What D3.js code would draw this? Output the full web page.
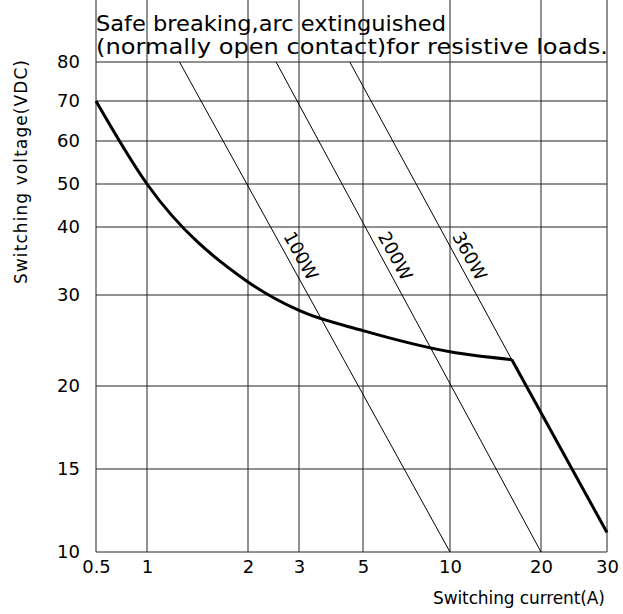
<!DOCTYPE html>
<html>
<head>
<meta charset="utf-8">
<script src="https://cdn.jsdelivr.net/npm/d3@7"></script>
<style>
  body { margin: 0; background: #fff; }
  text { font-family: "DejaVu Sans", sans-serif; fill: #000; }
</style>
</head>
<body>
<svg id="chart" width="623" height="614"></svg>
<script>
// ---- data
var xTicks = [0.5, 1, 2, 3, 5, 10, 20, 30];
var yTicks = [10, 15, 20, 30, 40, 50, 60, 70, 80];

// arc limit curve (A, V)
var arcI = [0.5, 1, 2, 3, 5, 10, 16];
var arcV = [70, 50, 31.7, 28, 25.6, 23.3, 22.5];
// straight tail after the knee
var tailI = [16, 30];
var tailV = [22.5, 11];

// constant power lines
var powers = [100, 200, 360];
var powerLabels = ["100W", "200W", "360W"];
var powerEndI = [10, 20, 16];

var titleLines = ["Safe breaking,arc extinguished", "(normally open contact)for resistive loads."];

// ---- layout
var svg = d3.select("#chart");
// the paper grid is not evenly spaced, so the scales are piecewise
var xStops = [96, 147, 248, 299, 363, 450, 541, 607];
var yStops = [552, 469, 386, 295, 227, 184, 141, 101, 62];

var x = d3.scaleLog().domain(xTicks).range(xStops);
var y = d3.scaleLog().domain(yTicks).range(yStops);

var left = x(0.5), right = x(30), top = y(80), bottom = y(10);

// grid
var grid = svg.append("g").attr("class", "grid");
grid.selectAll("line.v")
    .data(xTicks)
    .enter().append("line")
    .attr("x1", function(d){ return x(d); })
    .attr("x2", function(d){ return x(d); })
    .attr("y1", top).attr("y2", bottom)
    .attr("stroke", "#222").attr("stroke-width", 1);
grid.selectAll("line.h")
    .data(yTicks)
    .enter().append("line")
    .attr("y1", function(d){ return y(d); })
    .attr("y2", function(d){ return y(d); })
    .attr("x1", left).attr("x2", right)
    .attr("stroke", "#222").attr("stroke-width", 1);

// axes (labels only, grid does the lines)
var xAxis = d3.axisBottom(x).tickValues(xTicks).tickSize(0).tickPadding(8)
    .tickFormat(function(d){ return d; });
var yAxis = d3.axisLeft(y).tickValues(yTicks).tickSize(0).tickPadding(16)
    .tickFormat(function(d){ return d; });

var gx = svg.append("g").attr("transform", "translate(0," + bottom + ")").call(xAxis);
var gy = svg.append("g").attr("transform", "translate(" + left + ",0)").call(yAxis);
[gx, gy].forEach(function(g){
  g.select(".domain").remove();
  g.selectAll("text").attr("font-size", 18).attr("font-family", "DejaVu Sans");
});

// power lines, straight on the paper from 80V down to their end current
var powerPts = powers.map(function(p, i){
  return [[x(p / 80), y(80)], [x(powerEndI[i]), y(p / powerEndI[i])]];
});
svg.selectAll("path.pw")
    .data(powerPts)
    .enter().append("path")
    .attr("class", "pw")
    .attr("d", d3.line())
    .attr("fill", "none")
    .attr("stroke", "#000")
    .attr("stroke-width", 1);

// power labels, rotated along the lines
var labV = 34.5;
powerPts.forEach(function(seg, i){
  var a = seg[0], b = seg[1];
  var yy = y(labV);
  var t = (yy - a[1]) / (b[1] - a[1]);
  var px = a[0] + t * (b[0] - a[0]);
  var ang = Math.atan2(b[1] - a[1], b[0] - a[0]);
  var off = 13;
  var cx = px + off * Math.sin(ang), cy = yy - off * Math.cos(ang);
  svg.append("text")
      .attr("transform", "translate(" + cx + "," + cy + ") rotate(" + (ang * 180 / Math.PI) + ")")
      .attr("text-anchor", "middle")
      .attr("dominant-baseline", "central")
      .attr("font-size", 18)
      .text(powerLabels[i]);
});

// arc limit curve
var arc = arcI.map(function(d, i){ return [d, arcV[i]]; });
var tail = tailI.map(function(d, i){ return [d, tailV[i]]; });
var line = d3.line()
    .x(function(d){ return x(d[0]); })
    .y(function(d){ return y(d[1]); })
    .curve(d3.curveMonotoneX);
svg.append("path").datum(arc)
    .attr("d", line).attr("fill", "none").attr("stroke", "#000").attr("stroke-width", 3);
svg.append("path").datum(tail)
    .attr("d", line.curve(d3.curveLinear)).attr("fill", "none").attr("stroke", "#000").attr("stroke-width", 3);

// frame
svg.append("rect")
    .attr("x", left).attr("y", top)
    .attr("width", right - left).attr("height", bottom - top)
    .attr("fill", "none").attr("stroke", "#444").attr("stroke-width", 1);

// titles
svg.selectAll("text.title")
    .data(titleLines)
    .enter().append("text")
    .attr("class", "title")
    .attr("x", left)
    .attr("y", function(d, i){ return 31 + i * 23; })
    .attr("font-size", 22)
    .attr("textLength", function(d, i){ return i ? 512 : 350; })
    .attr("lengthAdjust", "spacingAndGlyphs")
    .text(function(d){ return d; });

svg.append("text")
    .attr("x", 605).attr("y", 604)
    .attr("text-anchor", "end")
    .attr("font-size", 17)
    .attr("textLength", 172)
    .text("Switching current(A)");

svg.append("text")
    .attr("transform", "translate(27,172) rotate(-90)")
    .attr("text-anchor", "middle")
    .attr("font-size", 17)
    .attr("textLength", 224)
    .text("Switching voltage(VDC)");
</script>
</body>
</html>
